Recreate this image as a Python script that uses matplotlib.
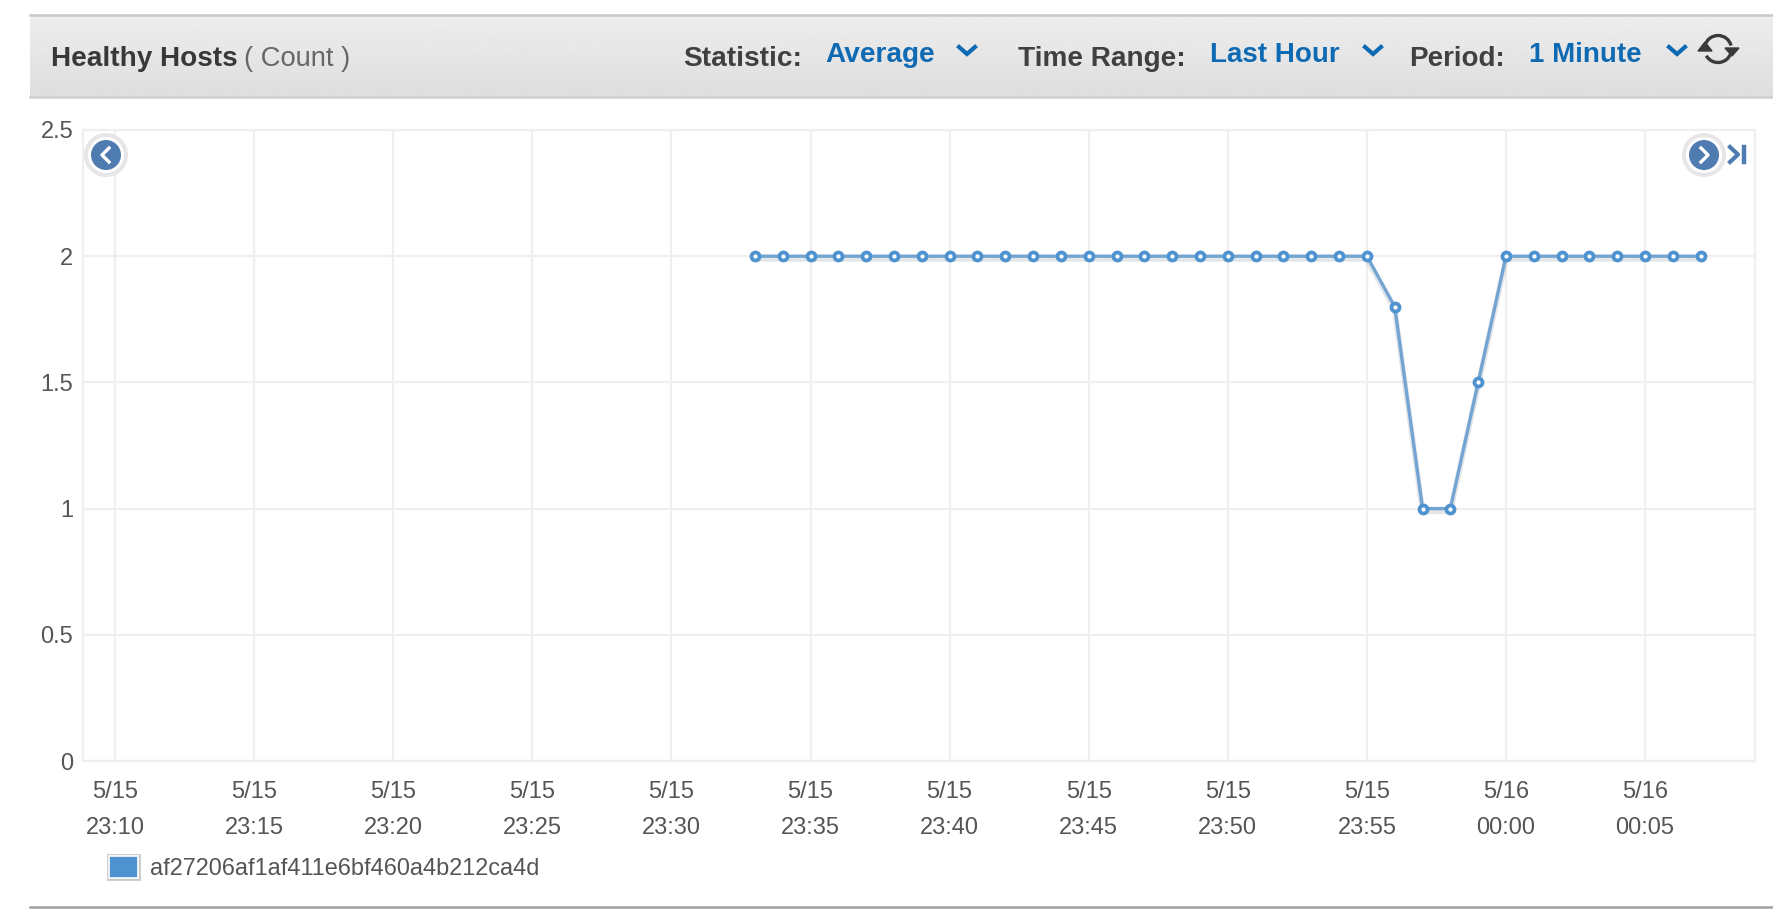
import numpy as np
import pandas as pd
import matplotlib
matplotlib.use('Agg')
import matplotlib.pyplot as plt
import matplotlib.patheffects as pe
from matplotlib.patches import Patch, Circle, Arc, Polygon

plt.rcParams['font.family'] = ['Liberation Sans', 'DejaVu Sans']

times = ['23:33', '23:34', '23:35', '23:36', '23:37', '23:38', '23:39', '23:40', '23:41',
         '23:42', '23:43', '23:44', '23:45', '23:46', '23:47', '23:48', '23:49', '23:50',
         '23:51', '23:52', '23:53', '23:54', '23:55', '23:56', '23:57', '23:58', '23:59',
         '00:00', '00:01', '00:02', '00:03', '00:04', '00:05', '00:06', '00:07']
values = [2, 2, 2, 2, 2, 2, 2, 2, 2,
          2, 2, 2, 2, 2, 2, 2, 2, 2,
          2, 2, 2, 2, 2, 1.8, 1, 1, 1.5,
          2, 2, 2, 2, 2, 2, 2, 2]
tick_labels = ['23:10', '23:15', '23:20', '23:25', '23:30', '23:35', '23:40', '23:45',
               '23:50', '23:55', '00:00', '00:05']
y_ticks = [0, 0.5, 1, 1.5, 2, 2.5]
y_labels = ['0', '0.5', '1', '1.5', '2', '2.5']
series_name = 'af27206af1af411e6bf460a4b212ca4d'


def to_date(t):
    # everything before midnight is 5/15, the rest 5/16
    day = '2016-05-15' if t.startswith('23') else '2016-05-16'
    return pd.Timestamp(day + ' ' + t)


W, H = 1774, 916
LINE = '#74a5d2'
BLUE = '#4f92d0'
GRID = '#efefef'
NAV = '#4f7cb0'

fig = plt.figure(figsize=(W / 100, H / 100), dpi=100)
ax = fig.add_axes([83 / W, 1 - 761 / H, (1755 - 83) / W, (761 - 130) / H])

xs = [to_date(t) for t in times]
ticks = [to_date(t) for t in tick_labels]

line_fx = [pe.SimpleLineShadow(offset=(0, -2), linewidth=4, shadow_color='#7f8f9f', alpha=0.22),
           pe.Normal()]
ax.plot(xs, values, color=LINE, lw=2.4, path_effects=line_fx, zorder=3)
ax.plot(xs, values, ls='none', marker='o', ms=5.8, mfc='white', mec=BLUE, mew=2.7, zorder=4)

left = to_date('23:10') - pd.Timedelta(minutes=1.15)
right = to_date('23:10') + pd.Timedelta(minutes=58.95)
ax.set_xlim(left, right)
ax.set_ylim(0, 2.5)
ax.set_xticks(ticks)
ax.set_xticklabels(['%s\n%s' % ('5/15' if t.startswith('23') else '5/16', t) for t in tick_labels],
                   linespacing=1.8)
ax.set_yticks(y_ticks)
ax.set_yticklabels(y_labels)
ax.grid(True, color=GRID, lw=1.6)
ax.set_axisbelow(True)
ax.tick_params(axis='x', length=0, pad=14.5, labelsize=17, labelcolor='#555555')
ax.tick_params(axis='y', length=0, pad=7, labelsize=17, labelcolor='#555555')
for s in ax.spines.values():
    s.set_color(GRID)
    s.set_linewidth(1.6)

swatch = Patch(facecolor=BLUE, edgecolor='white', lw=1.2,
               path_effects=[pe.Stroke(linewidth=3.4, foreground='#c8c8c8'), pe.Normal()])
ax.legend(handles=[swatch], labels=[series_name], loc='center left', frameon=False,
          bbox_to_anchor=(109 / W, 1 - 868 / H), bbox_transform=fig.transFigure,
          fontsize=16.95, labelcolor='#555555', handlelength=1.25, handleheight=1.05,
          handletextpad=0.5, borderpad=0, borderaxespad=0)

# page furniture, in pixels of the screenshot
ov = fig.add_axes([0, 0, 1, 1], zorder=5)
ov.patch.set_alpha(0)
grad = np.linspace(0.93, 0.87, 80).reshape(-1, 1)
ov.imshow(grad, cmap='gray', vmin=0, vmax=1, extent=[30, W, 97, 15], aspect='auto')
ov.set_xlim(0, W)
ov.set_ylim(H, 0)
ov.axis('off')
ov.plot([30, W], [15, 15], color='#c8c8c8', lw=1.8)
ov.plot([30, W], [97, 97], color='#cfcfcf', lw=1.8)
ov.plot([30, W], [907, 907], color='#a0a0a0', lw=1.8)

ov.text(51, 59, 'Healthy Hosts', fontsize=20.1, fontweight='bold', color='#383838', va='center')
ov.text(244, 59, '( Count )', fontsize=19.7, color='#666666', va='center')
ov.text(683, 59, 'Statistic:', fontsize=20.2, fontweight='bold', color='#404040', va='center')
ov.text(1018, 59, 'Time Range:', fontsize=20.2, fontweight='bold', color='#404040', va='center')
ov.text(1409, 59, 'Period:', fontsize=20, fontweight='bold', color='#404040', va='center')
ov.text(825, 55, 'Average', fontsize=20.2, fontweight='bold', color='#0f6ab4', va='center')
ov.text(1210, 55, 'Last Hour', fontsize=20, fontweight='bold', color='#0f6ab4', va='center')
ov.text(1529, 55, '1 Minute', fontsize=20, fontweight='bold', color='#0f6ab4', va='center')

# dropdown chevrons
for cx in [967, 1373, 1677]:
    ov.plot([cx - 8, cx, cx + 8], [47, 54, 47], color='#0f6ab4', lw=3, solid_joinstyle='miter')

# refresh icon
ov.add_patch(Arc((1718, 49), 27, 27, theta1=195, theta2=345, color='#3a3a3a', lw=2.4))
ov.add_patch(Arc((1718, 49), 27, 27, theta1=20, theta2=150, color='#3a3a3a', lw=2.4))
ov.add_patch(Polygon([(1698, 51), (1712, 51), (1705, 42)], closed=True, color='#3a3a3a'))
ov.add_patch(Polygon([(1725, 48), (1739, 48), (1732, 56)], closed=True, color='#3a3a3a'))

# scroll buttons on the plot
for cx, tip in [(106, -1), (1704, 1)]:
    ov.add_patch(Circle((cx, 155), 22, color='#e6e6e6', lw=0))
    ov.add_patch(Circle((cx, 155), 18, color='white', lw=0))
    ov.add_patch(Circle((cx, 155), 15, color=NAV, lw=0))
    ov.plot([cx - 3 * tip, cx + 4 * tip, cx - 3 * tip], [148, 155, 162], color='white', lw=2.4)
ov.plot([1730, 1738, 1730], [147, 154.5, 162], color=NAV, lw=3)
ov.plot([1744.5, 1744.5], [147, 162], color=NAV, lw=3.2)

fig.savefig('out.png', dpi=100)
